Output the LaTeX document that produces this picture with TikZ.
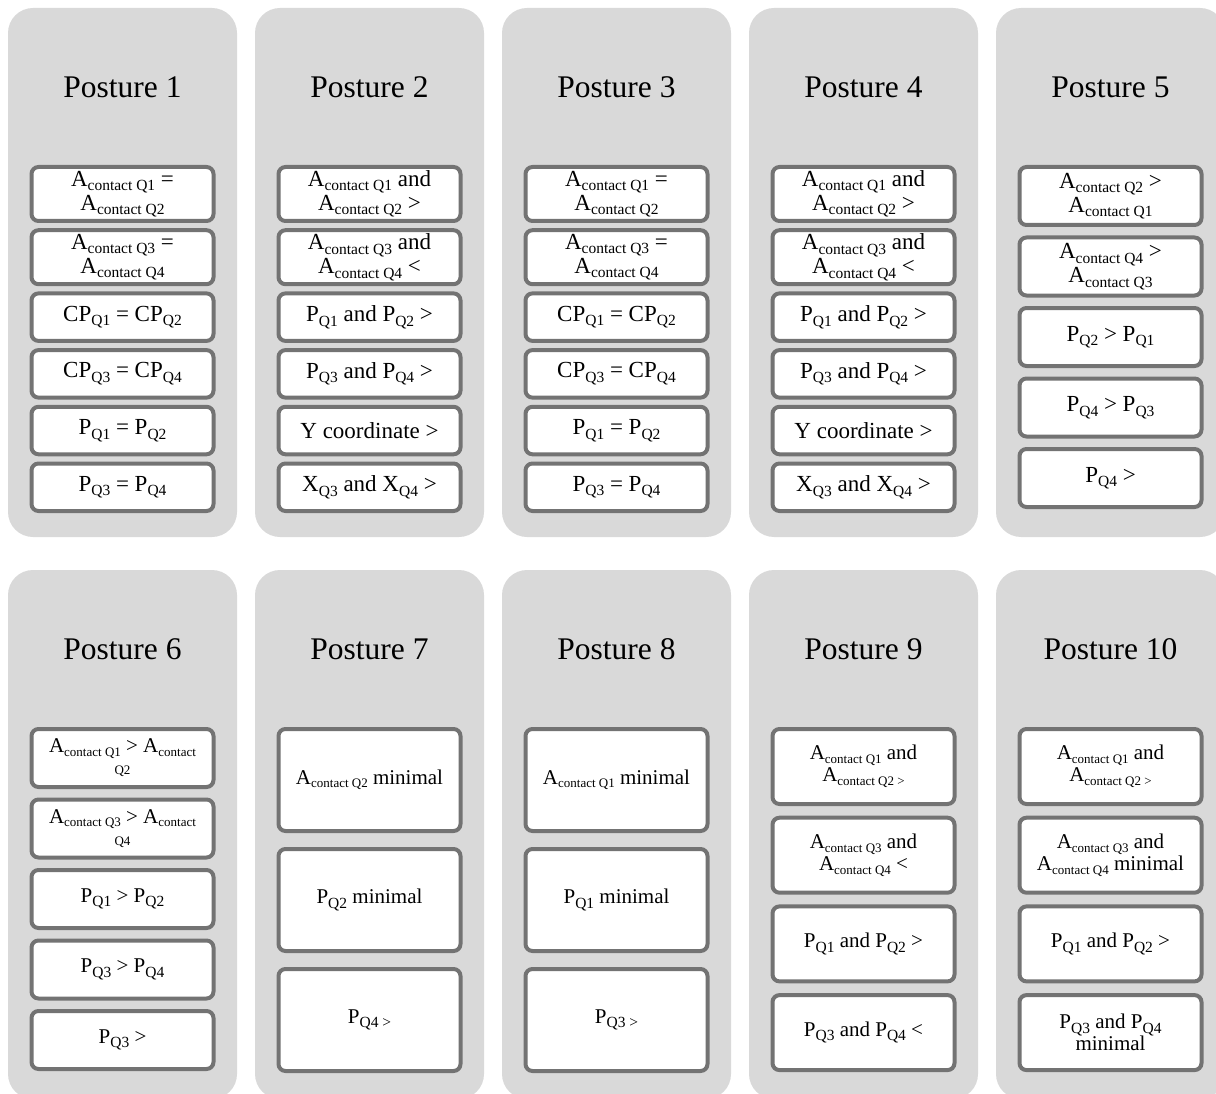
\documentclass[tikz,border=0pt]{standalone}
\usepackage{fontspec}
\setmainfont{Liberation Serif}
\usetikzlibrary{positioning}

\definecolor{panelgray}{RGB}{217,217,217}
\definecolor{boxline}{RGB}{115,115,115}

\newcommand{\qsub}[1]{\raisebox{-4.5pt}{\fontsize{15.5}{15.5}\selectfont #1}}
\newcommand{\csub}[1]{\raisebox{-3.5pt}{\fontsize{13}{13}\selectfont #1}}

\begin{document}
\begin{tikzpicture}[
    x=1pt, y=-1pt,
    panel/.style={rectangle, rounded corners=25pt, fill=panelgray, minimum width=229pt, minimum height=529pt, inner sep=0pt},
    title/.style={font=\fontsize{31.5}{36}\selectfont},
    cond/.style={rectangle, rounded corners=7pt, draw=boxline, line width=4pt, fill=white, minimum width=182pt, align=center, inner sep=1pt, font=\fontsize{23}{24}\selectfont},
    lowcond/.style={cond, font=\fontsize{21}{22}\selectfont}
]
    \useasboundingbox (0,0) rectangle (1216,1094);
    \clip (0,0) rectangle (1216,1094);

    % Panels
    \node[panel] (p1) at (122.5, 272.5) {};
    \node[panel] (p2) at (369.5, 272.5) {};
    \node[panel] (p3) at (616.5, 272.5) {};
    \node[panel] (p4) at (863.5, 272.5) {};
    \node[panel] (p5) at (1110.5, 272.5) {};
    \node[panel] (p6) at (122.5, 834.5) {};
    \node[panel] (p7) at (369.5, 834.5) {};
    \node[panel] (p8) at (616.5, 834.5) {};
    \node[panel] (p9) at (863.5, 834.5) {};
    \node[panel] (p10) at (1110.5, 834.5) {};

    % Posture 1
    \node[title] (t1) at (122.5, 87) {Posture 1};
    \node[cond, minimum height=54pt] (p1c1) at (122.5, 194) {A\qsub{contact Q1} =\\A\qsub{contact Q2}};
    \node[cond, minimum height=54pt] (p1c2) at (122.5, 257.2) {A\qsub{contact Q3} =\\A\qsub{contact Q4}};
    \node[cond, minimum height=47.5pt] (p1c3) at (122.5, 317.15) {CP\qsub{Q1} = CP\qsub{Q2}};
    \node[cond, minimum height=47.5pt] (p1c4) at (122.5, 373.85) {CP\qsub{Q3} = CP\qsub{Q4}};
    \node[cond, minimum height=47.5pt] (p1c5) at (122.5, 430.55) {P\qsub{Q1} = P\qsub{Q2}};
    \node[cond, minimum height=47.5pt] (p1c6) at (122.5, 487.25) {P\qsub{Q3} = P\qsub{Q4}};

    % Posture 2
    \node[title] (t2) at (369.5, 87) {Posture 2};
    \node[cond, minimum height=54pt] (p2c1) at (369.5, 194) {A\qsub{contact Q1} and\\A\qsub{contact Q2} >};
    \node[cond, minimum height=54pt] (p2c2) at (369.5, 257.2) {A\qsub{contact Q3} and\\A\qsub{contact Q4} <};
    \node[cond, minimum height=47.5pt] (p2c3) at (369.5, 317.15) {P\qsub{Q1} and P\qsub{Q2} >};
    \node[cond, minimum height=47.5pt] (p2c4) at (369.5, 373.85) {P\qsub{Q3} and P\qsub{Q4} >};
    \node[cond, minimum height=47.5pt] (p2c5) at (369.5, 430.55) {Y coordinate >};
    \node[cond, minimum height=47.5pt] (p2c6) at (369.5, 487.25) {X\qsub{Q3} and X\qsub{Q4} >};

    % Posture 3
    \node[title] (t3) at (616.5, 87) {Posture 3};
    \node[cond, minimum height=54pt] (p3c1) at (616.5, 194) {A\qsub{contact Q1} =\\A\qsub{contact Q2}};
    \node[cond, minimum height=54pt] (p3c2) at (616.5, 257.2) {A\qsub{contact Q3} =\\A\qsub{contact Q4}};
    \node[cond, minimum height=47.5pt] (p3c3) at (616.5, 317.15) {CP\qsub{Q1} = CP\qsub{Q2}};
    \node[cond, minimum height=47.5pt] (p3c4) at (616.5, 373.85) {CP\qsub{Q3} = CP\qsub{Q4}};
    \node[cond, minimum height=47.5pt] (p3c5) at (616.5, 430.55) {P\qsub{Q1} = P\qsub{Q2}};
    \node[cond, minimum height=47.5pt] (p3c6) at (616.5, 487.25) {P\qsub{Q3} = P\qsub{Q4}};

    % Posture 4
    \node[title] (t4) at (863.5, 87) {Posture 4};
    \node[cond, minimum height=54pt] (p4c1) at (863.5, 194) {A\qsub{contact Q1} and\\A\qsub{contact Q2} >};
    \node[cond, minimum height=54pt] (p4c2) at (863.5, 257.2) {A\qsub{contact Q3} and\\A\qsub{contact Q4} <};
    \node[cond, minimum height=47.5pt] (p4c3) at (863.5, 317.15) {P\qsub{Q1} and P\qsub{Q2} >};
    \node[cond, minimum height=47.5pt] (p4c4) at (863.5, 373.85) {P\qsub{Q3} and P\qsub{Q4} >};
    \node[cond, minimum height=47.5pt] (p4c5) at (863.5, 430.55) {Y coordinate >};
    \node[cond, minimum height=47.5pt] (p4c6) at (863.5, 487.25) {X\qsub{Q3} and X\qsub{Q4} >};

    % Posture 5
    \node[title] (t5) at (1110.5, 87) {Posture 5};
    \node[cond, minimum height=58pt] (p5c1) at (1110.5, 196) {A\qsub{contact Q2} >\\A\qsub{contact Q1}};
    \node[cond, minimum height=58pt] (p5c2) at (1110.5, 266.5) {A\qsub{contact Q4} >\\A\qsub{contact Q3}};
    \node[cond, minimum height=58pt] (p5c3) at (1110.5, 337) {P\qsub{Q2} > P\qsub{Q1}};
    \node[cond, minimum height=58pt] (p5c4) at (1110.5, 407.5) {P\qsub{Q4} > P\qsub{Q3}};
    \node[cond, minimum height=58pt] (p5c5) at (1110.5, 478) {P\qsub{Q4} >};

    % Posture 6
    \node[title] (t6) at (122.5, 649) {Posture 6};
    \node[lowcond, minimum height=58pt] (p6c1) at (122.5, 758) {A\csub{contact Q1} > A\csub{contact}\\{\fontsize{13}{13}\selectfont Q2}};
    \node[lowcond, minimum height=58pt] (p6c2) at (122.5, 828.5) {A\csub{contact Q3} > A\csub{contact}\\{\fontsize{13}{13}\selectfont Q4}};
    \node[lowcond, minimum height=58pt] (p6c3) at (122.5, 899) {P\qsub{Q1} > P\qsub{Q2}};
    \node[lowcond, minimum height=58pt] (p6c4) at (122.5, 969.5) {P\qsub{Q3} > P\qsub{Q4}};
    \node[lowcond, minimum height=58pt] (p6c5) at (122.5, 1040) {P\qsub{Q3} >};

    % Posture 7
    \node[title] (t7) at (369.5, 649) {Posture 7};
    \node[lowcond, minimum height=102pt] (p7c1) at (369.5, 780) {A\csub{contact Q2} minimal};
    \node[lowcond, minimum height=102pt] (p7c2) at (369.5, 900) {P\qsub{Q2} minimal};
    \node[lowcond, minimum height=102pt] (p7c3) at (369.5, 1020) {P\qsub{Q4 >}};

    % Posture 8
    \node[title] (t8) at (616.5, 649) {Posture 8};
    \node[lowcond, minimum height=102pt] (p8c1) at (616.5, 780) {A\csub{contact Q1} minimal};
    \node[lowcond, minimum height=102pt] (p8c2) at (616.5, 900) {P\qsub{Q1} minimal};
    \node[lowcond, minimum height=102pt] (p8c3) at (616.5, 1020) {P\qsub{Q3 >}};

    % Posture 9
    \node[title] (t9) at (863.5, 649) {Posture 9};
    \node[lowcond, minimum height=75pt] (p9c1) at (863.5, 766.5) {A\csub{contact Q1} and\\A\csub{contact Q2 >}};
    \node[lowcond, minimum height=75pt] (p9c2) at (863.5, 855.2) {A\csub{contact Q3} and\\A\csub{contact Q4} <};
    \node[lowcond, minimum height=75pt] (p9c3) at (863.5, 943.9) {P\qsub{Q1} and P\qsub{Q2} >};
    \node[lowcond, minimum height=75pt] (p9c4) at (863.5, 1032.6) {P\qsub{Q3} and P\qsub{Q4} <};

    % Posture 10
    \node[title] (t10) at (1110.5, 649) {Posture 10};
    \node[lowcond, minimum height=75pt] (p10c1) at (1110.5, 766.5) {A\csub{contact Q1} and\\A\csub{contact Q2 >}};
    \node[lowcond, minimum height=75pt] (p10c2) at (1110.5, 855.2) {A\csub{contact Q3} and\\A\csub{contact Q4} minimal};
    \node[lowcond, minimum height=75pt] (p10c3) at (1110.5, 943.9) {P\qsub{Q1} and P\qsub{Q2} >};
    \node[lowcond, minimum height=75pt] (p10c4) at (1110.5, 1032.6) {P\qsub{Q3} and P\qsub{Q4}\\minimal};
\end{tikzpicture}
\end{document}
